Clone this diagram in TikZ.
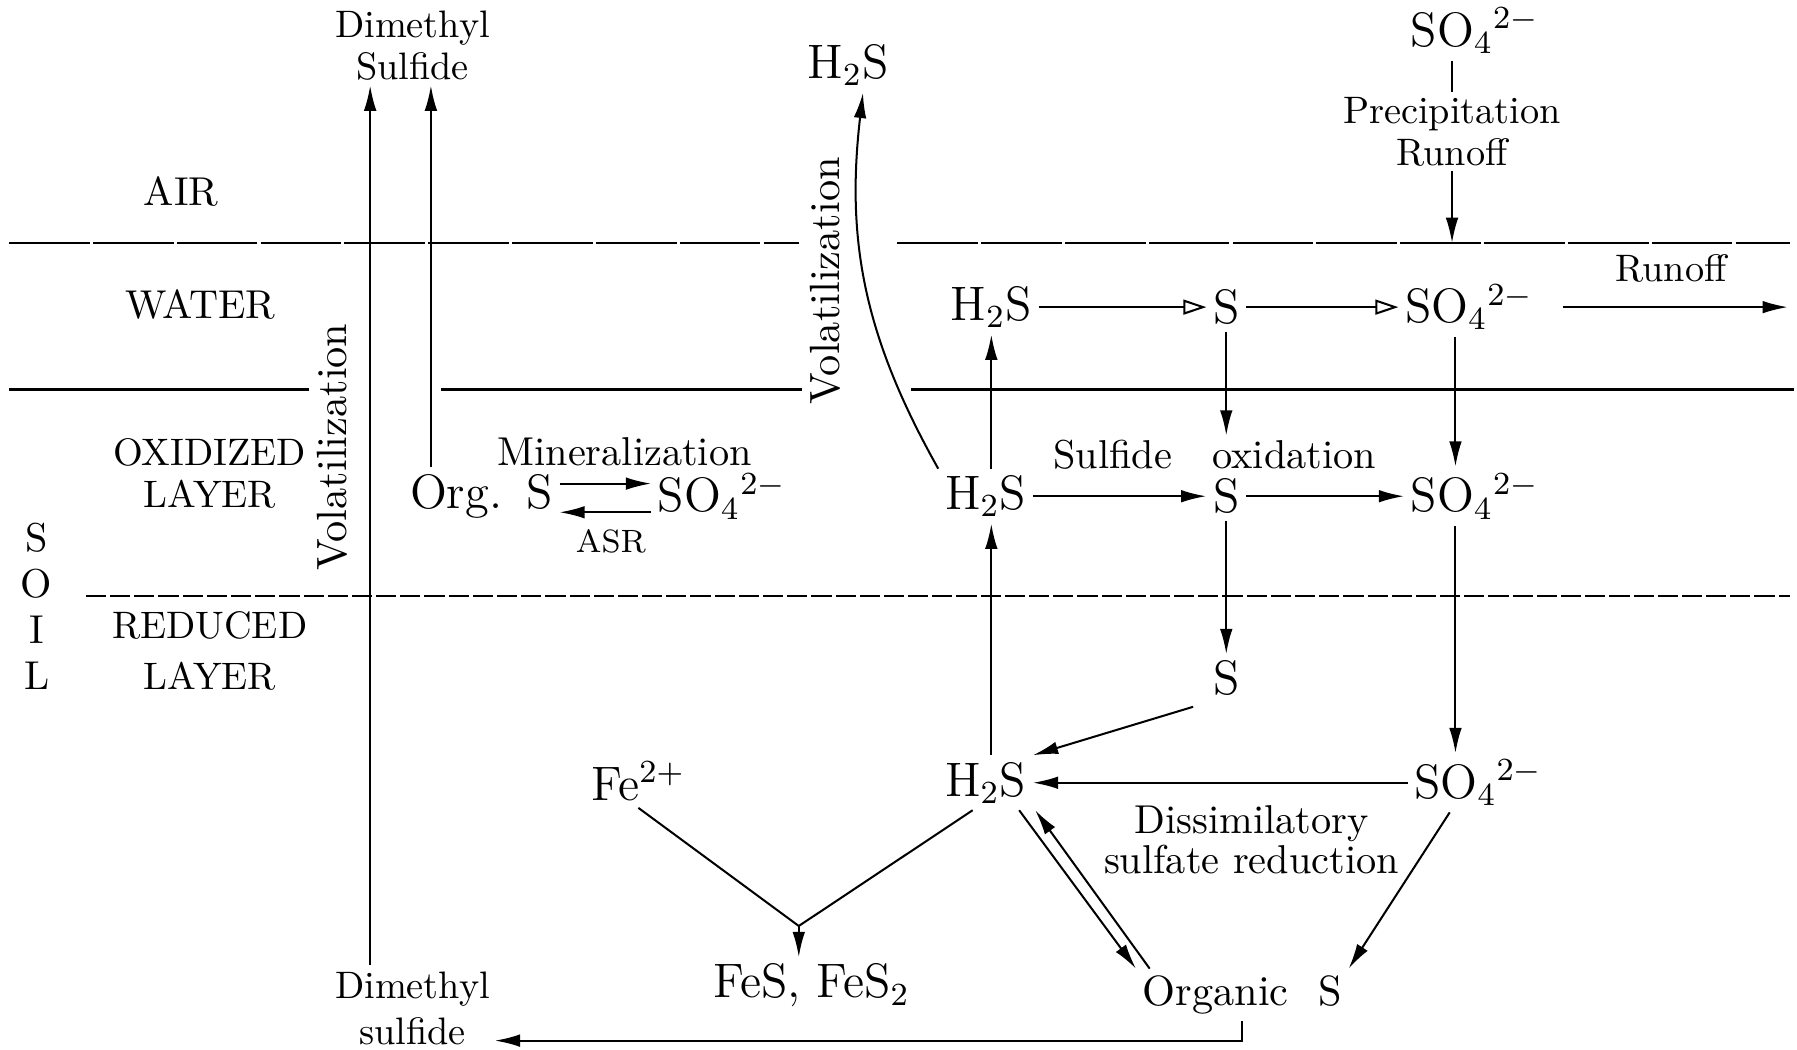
\documentclass[tikz,border=0pt]{standalone}
\usepackage{amsmath}
\usepackage{tikz}
\usetikzlibrary{arrows.meta}
\pgfdeclarelayer{bg}
\pgfsetlayers{bg,main}
\tikzset{chem/.style={inner sep=1.5pt, font=\fontsize{12}{14}\selectfont},
    lbl/.style={inner sep=1pt, align=center, font=\fontsize{9.5}{10.5}\selectfont},
    proc/.style={inner sep=1pt, font=\fontsize{10.5}{12}\selectfont},
    arr/.style={-{Latex[length=2.2mm,width=1.1mm]}, line width=0.5pt},
    oarr/.style={-{Triangle[open,length=2mm,width=1.3mm]}, line width=0.5pt},
    bound/.style={line width=0.6pt}}
\newcommand{\sofour}{SO$_4{}^{2-}$}
\newcommand{\htwos}{H$_2$S}

\begin{document}
\begin{tikzpicture}[x=0.01cm, y=-0.01cm, font=\fontsize{10}{12}\selectfont]
    \useasboundingbox (0,0) rectangle (1568,916);

    \node (air) at (158,167) {AIR};
    \node (water) at (175,266) {WATER};
    \node (oxid) [lbl] at (183,413) {OXIDIZED\\LAYER};
    \node (redu) [lbl] at (183,568) {REDUCED\\[2pt]LAYER};
    \node (soil) [align=center, font=\fontsize{10}{11.4}\selectfont] at (32,529) {S\\O\\I\\L};

    \node (dmstop) [lbl] at (360,40) {Dimethyl\\Sulfide};
    \node (h2stop) [chem] at (740,57) {\htwos};
    \node (so4top) [chem] at (1287,27) {\sofour};
    \node (precip) [lbl] at (1267,115) {Precipitation\\Runoff};
    \coordinate (pin) at (1267,212);

    \node (vol1) [proc, rotate=90] at (290,390) {Volatilization};
    \node (vol2) [proc, rotate=90] at (720,245) {Volatilization};

    \coordinate (colh) at (865,0);
    \coordinate (colso) at (1270,0);
    \coordinate (colb) at (376,0);
    \coordinate (va0) at (323,842);

    \node (h2sw) [chem] at (865,268) {\htwos};
    \node (sw) [chem] at (1070,268) {S};
    \node (so4w) [chem] at (1282,268) {\sofour};
    \node (runlbl) [lbl] at (1458,234) {Runoff};
    \coordinate (runend) at (1560,268);

    \node (orgox) [chem] at (420,433) {Org.\enspace S};
    \node (so4min) [chem] at (630,433) {\sofour};
    \node (minlbl) [proc, font=\fontsize{10}{12}\selectfont] at (545,394) {Mineralization};
    \node (asr) [lbl, font=\fontsize{8}{9}\selectfont] at (533,472) {ASR};

    \node (h2sox) [chem] at (860,433) {\htwos};
    \node (sox) [chem] at (1070,433) {S};
    \node (so4ox) [chem] at (1287,433) {\sofour};
    \node (sulfox) [lbl, font=\fontsize{10}{12}\selectfont] at (1060,397) {Sulfide\quad oxidation};

    \node (sred) [chem] at (1070,592) {S};
    \node (h2sred) [chem] at (860,683) {\htwos};
    \node (so4red) [chem] at (1290,683) {\sofour};
    \node (fe) [chem] at (557,682) {Fe$^{2+}$};
    \node (dissim) [lbl, font=\fontsize{10}{10}\selectfont] at (1092,733) {Dissimilatory\\sulfate reduction};
    \coordinate (fork) at (697,808);
    \node (fes) [chem] at (708,860) {FeS,~FeS$_2$};
    \node (orgs) [chem, font=\fontsize{10.5}{12}\selectfont] at (1084,868) {Organic\hspace{0.7em}S};
    \node (dmsbot) [lbl, font=\fontsize{9.5}{11.4}\selectfont] at (360,880) {Dimethyl\\sulfide};

    \begin{pgfonlayer}{bg}
        \draw [bound, dash pattern=on 20pt off 0.8pt] (8,212) -- (697,212);
        \draw [bound, dash pattern=on 20pt off 0.8pt] (783,212) -- (1562,212);
        \draw [bound] (8,340) -- (270,340);
        \draw [bound] (385,340) -- (700,340);
        \draw [bound] (795,340) -- (1565,340);
        \draw [bound, dash pattern=on 5pt off 1pt] (75,520) -- (1562,520);
    \end{pgfonlayer}

    % volatilization
    \draw (va0) edge[arr] (va0 |- dmstop.south);
    \draw (orgox.north -| colb) edge[arr] (colb |- dmstop.south);
    \draw (h2sox.north west) edge[arr, bend left=18] ([xshift=0.13cm]h2stop.south);

    % precipitation
    \draw (so4top.south -| precip) edge[line width=0.5pt] (precip.north);
    \draw (precip.south) edge[arr] (pin);

    % water
    \draw (h2sw) edge[oarr] (sw);
    \draw (sw) edge[oarr] (so4w);
    \draw (so4w) edge[arr, shorten <=0.2cm] (runend);

    % oxidized layer
    \draw ([yshift=0.11cm]orgox.east) edge[arr] ([yshift=0.11cm]so4min.west);
    \draw ([yshift=-0.14cm]so4min.west) edge[arr] ([yshift=-0.14cm]orgox.east);
    \draw (h2sox) edge[arr] (sox);
    \draw (sox) edge[arr] (so4ox);
    \draw (h2sox.north -| colh) edge[arr] (h2sw.south -| colh);
    \draw (sw) edge[arr] (sulfox.north -| sw);
    \draw (so4w.south -| colso) edge[arr] (so4ox.north -| colso);

    % reduced layer
    \draw (h2sred.north -| colh) edge[arr] (h2sox.south -| colh);
    \draw (sox) edge[arr] (sred);
    \draw (so4ox.south -| colso) edge[arr] (so4red.north -| colso);
    \draw (sred.south west) edge[arr, shorten <=0.12cm] (h2sred.north east);
    \draw (so4red) edge[arr] (h2sred);
    \draw (fe.south) edge[line width=0.5pt] (fork);
    \draw ([xshift=0.3cm]h2sred.south west) edge[line width=0.5pt] (fork);
    \draw (fork) edge[arr] (fork |- fes.north);
    \draw ([xshift=-0.12cm]h2sred.south east) edge[arr] (orgs.north west);
    \draw ([xshift=0.12cm]orgs.north west) edge[arr] ([xshift=0.02cm]h2sred.south east);
    \draw ([xshift=-0.25cm]so4red.south) edge[arr] (orgs.north east);
    \draw[arr] (orgs.south) |- ([yshift=-0.28cm]dmsbot.east);
\end{tikzpicture}
\end{document}
